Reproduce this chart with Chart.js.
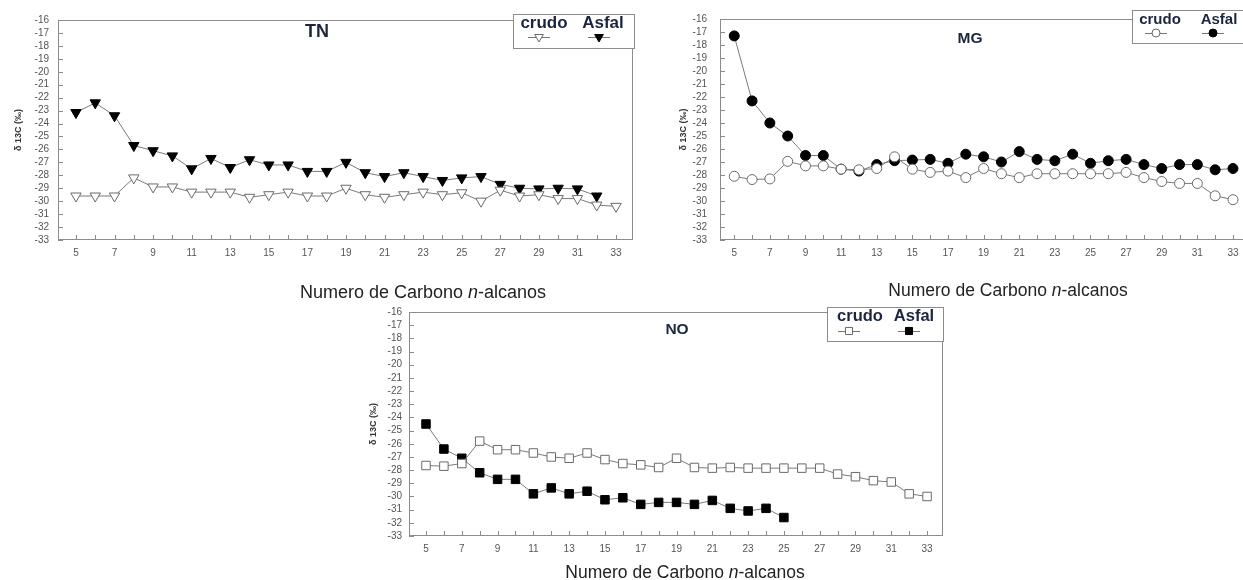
<!DOCTYPE html>
<html>
<head>
<meta charset="utf-8">
<script src="https://cdn.jsdelivr.net/npm/chart.js@4.4.0/dist/chart.umd.min.js"></script>
<style>
  body { margin: 0; background: #fff; width: 1243px; height: 580px; overflow: hidden; position: relative; font-family: "Liberation Sans", Arial, sans-serif; }
  canvas { position: absolute; }
  .xlab { position: absolute; font-size: 17.5px; color: #222; white-space: nowrap; transform: translate(-50%, -50%); }
</style>
</head>
<body>
<canvas id="tnChart" width="640" height="270" style="left:0;top:0"></canvas>
<canvas id="mgChart" width="620" height="270" style="left:640px;top:0"></canvas>
<canvas id="noChart" width="600" height="276" style="left:350px;top:290px"></canvas>
<div class="xlab" style="left:423px;top:292px;font-size:18px">Numero de Carbono <i>n</i>-alcanos</div>
<div class="xlab" style="left:1008px;top:290px">Numero de Carbono <i>n</i>-alcanos</div>
<div class="xlab" style="left:685px;top:572px">Numero de Carbono <i>n</i>-alcanos</div>
<script>
// carbon number of the n-alkane (x axis)
const nC = [5, 6, 7, 8, 9, 10, 11, 12, 13, 14, 15, 16, 17, 18, 19, 20, 21, 22, 23, 24, 25, 26, 27, 28, 29, 30, 31, 32, 33];
const yTicks = [-33, -32, -31, -30, -29, -28, -27, -26, -25, -24, -23, -22, -21, -20, -19, -18, -17, -16];

// delta 13C values (per mil), one per carbon number
const tnCrudo = [-29.6, -29.6, -29.6, -28.2, -28.9, -28.9, -29.3, -29.3, -29.3, -29.7, -29.5, -29.3, -29.6, -29.6, -29.0, -29.5, -29.7, -29.5, -29.3, -29.5, -29.35, -30.0, -29.15, -29.6, -29.5, -29.8, -29.8, -30.3, -30.4];
const tnAsfal = [-23.15, -22.4, -23.4, -25.7, -26.1, -26.5, -27.5, -26.7, -27.4, -26.8, -27.2, -27.2, -27.7, -27.7, -27.0, -27.8, -28.1, -27.8, -28.1, -28.4, -28.2, -28.1, -28.7, -29.0, -29.05, -29.0, -29.05, -29.6, null];

const mgCrudo = [-28.1, -28.35, -28.3, -26.95, -27.3, -27.3, -27.55, -27.6, -27.5, -26.6, -27.55, -27.8, -27.7, -28.2, -27.5, -27.9, -28.2, -27.9, -27.9, -27.9, -27.9, -27.9, -27.8, -28.2, -28.5, -28.65, -28.65, -29.6, -29.9];
const mgAsfal = [-17.3, -22.3, -24.0, -25.0, -26.5, -26.5, -27.55, -27.7, -27.2, -26.9, -26.85, -26.8, -27.1, -26.4, -26.6, -27.0, -26.2, -26.8, -26.9, -26.4, -27.1, -26.9, -26.8, -27.2, -27.5, -27.2, -27.2, -27.6, -27.5];

const noCrudo = [-27.65, -27.7, -27.5, -25.8, -26.45, -26.45, -26.7, -27.0, -27.1, -26.7, -27.2, -27.5, -27.6, -27.8, -27.1, -27.8, -27.85, -27.8, -27.85, -27.85, -27.85, -27.85, -27.85, -28.3, -28.5, -28.8, -28.9, -29.8, -30.0];
const noAsfal = [-24.5, -26.4, -27.1, -28.2, -28.7, -28.7, -29.8, -29.35, -29.8, -29.6, -30.25, -30.1, -30.6, -30.45, -30.45, -30.6, -30.3, -30.9, -31.1, -30.9, -31.6, null, null, null, null, null, null, null, null];

const FONT = '"Liberation Sans", Arial, sans-serif';
const navy = '#1b2540';

function pts(vals) {
  return nC.map((c, i) => ({ x: c, y: vals[i] })).filter(p => p.y !== null);
}

// frame, inner tick marks, panel title and the boxed legend
function framePlugin(cfg) {
  return {
    id: 'frame',
    afterDraw(chart) {
      const { ctx, chartArea: a, scales: { x, y } } = chart;
      ctx.save();
      ctx.strokeStyle = '#8c8c8c';
      ctx.lineWidth = 1;
      ctx.strokeRect(a.left + 0.5, a.top + 0.5, a.right - a.left - 1, a.bottom - a.top - 1);
      ctx.beginPath();
      nC.forEach(c => {
        const px = Math.round(x.getPixelForValue(c)) + 0.5;
        ctx.moveTo(px, a.bottom);
        ctx.lineTo(px, a.bottom - 5);
      });
      yTicks.forEach(v => {
        const py = Math.round(y.getPixelForValue(v)) + 0.5;
        ctx.moveTo(a.left, py);
        ctx.lineTo(a.left + 5, py);
      });
      ctx.stroke();

      ctx.fillStyle = navy;
      ctx.textAlign = 'center';
      ctx.textBaseline = 'middle';
      ctx.font = 'bold ' + cfg.titleSize + 'px ' + FONT;
      ctx.fillText(cfg.title, cfg.titleX, cfg.titleY);

      const L = cfg.legend;
      ctx.fillStyle = '#fff';
      ctx.fillRect(L.x, L.y, L.w, L.h);
      ctx.strokeStyle = '#8c8c8c';
      ctx.strokeRect(L.x + 0.5, L.y + 0.5, L.w, L.h);
      ctx.font = 'bold ' + L.size + 'px ' + FONT;
      chart.data.datasets.forEach((ds, i) => {
        ctx.fillStyle = navy;
        ctx.fillText(ds.label, L.tx[i], L.ty);
        ctx.strokeStyle = '#777';
        ctx.beginPath();
        ctx.moveTo(L.mx[i] - 11, L.my + 0.5);
        ctx.lineTo(L.mx[i] + 11, L.my + 0.5);
        ctx.stroke();
        ctx.fillStyle = ds.pointBackgroundColor;
        ctx.strokeStyle = ds.pointBorderColor;
        Chart.helpers.drawPoint(ctx, {
          pointStyle: ds.pointStyle, rotation: ds.pointRotation,
          radius: ds.pointRadius - 1, borderWidth: 1
        }, L.mx[i], L.my);
      });
      ctx.restore();
    }
  };
}

function makeChart(id, crudo, asfal, cfg) {
  const series = (label, vals, fill, stroke) => ({
    label: label,
    data: pts(vals),
    borderColor: '#7a7a7a',
    borderWidth: 1,
    pointStyle: cfg.marker,
    pointRotation: cfg.rotation,
    pointRadius: cfg.radius,
    pointBorderWidth: 1,
    pointBackgroundColor: fill,
    pointBorderColor: stroke,
    tension: 0
  });
  return new Chart(document.getElementById(id).getContext('2d'), {
    type: 'line',
    data: {
      datasets: [
        series('crudo', crudo, '#ffffff', '#6a6a6a'),
        series('Asfal', asfal, '#000000', '#000000')
      ]
    },
    options: {
      responsive: false,
      animation: false,
      layout: { padding: { top: cfg.padTop, right: cfg.padRight, left: 0, bottom: 0 } },
      plugins: { legend: { display: false }, tooltip: { enabled: false } },
      scales: {
        x: {
          type: 'linear', min: cfg.xMin, max: cfg.xMax,
          grid: { display: false, drawTicks: false },
          border: { display: false },
          afterFit: s => { s.height = 30; },
          ticks: {
            stepSize: 1, autoSkip: false, includeBounds: false, maxRotation: 0,
            padding: 7, color: '#555', font: { family: FONT, size: 10 },
            callback: v => (Math.abs(v - Math.round(v)) < 1e-6 && Math.round(v) % 2 === 1) ? Math.round(v) : ''
          }
        },
        y: {
          min: -33, max: -16,
          grid: { display: false, drawTicks: false },
          border: { display: false },
          afterFit: s => { s.width = cfg.yWidth; },
          ticks: {
            stepSize: 1, autoSkip: false, padding: cfg.yPad, color: '#555',
            font: { family: FONT, size: 10 }
          },
          title: {
            display: true, text: 'δ 13C (‰)', color: '#333',
            font: { family: FONT, size: 9, weight: 'bold' },
            padding: { top: cfg.titlePad, bottom: 0 }
          }
        }
      }
    },
    plugins: [framePlugin(cfg)]
  });
}

// TN panel
makeChart('tnChart', tnCrudo, tnAsfal, {
  marker: 'triangle', rotation: 180, radius: 6,
  xMin: 4.07, xMax: 33.88, padTop: 20, padRight: 6, yWidth: 58, yPad: 9, titlePad: 13,
  title: 'TN', titleSize: 18, titleX: 317, titleY: 32,
  legend: { x: 513, y: 14, w: 121, h: 34, size: 17, ty: 23, tx: [544, 603], my: 37, mx: [539, 599] }
});

// MG panel
makeChart('mgChart', mgCrudo, mgAsfal, {
  marker: 'circle', rotation: 0, radius: 5,
  xMin: 4.2, xMax: 33.9, padTop: 17, padRight: 11, yWidth: 80, yPad: 13, titlePad: 38,
  title: 'MG', titleSize: 15.5, titleX: 330, titleY: 39,
  legend: { x: 492, y: 10, w: 140, h: 33, size: 15, ty: 20, tx: [520, 579], my: 33, mx: [516, 573] }
});

// NO panel
makeChart('noChart', noCrudo, noAsfal, {
  marker: 'rect', rotation: 0, radius: 6,
  xMin: 4.05, xMax: 33.89, padTop: 22, padRight: 7, yWidth: 59, yPad: 7, titlePad: 18,
  title: 'NO', titleSize: 15.5, titleX: 327, titleY: 40,
  legend: { x: 477, y: 17, w: 116, h: 34, size: 16.5, ty: 26, tx: [510, 564], my: 41, mx: [499, 559] }
});
</script>
</body>
</html>
